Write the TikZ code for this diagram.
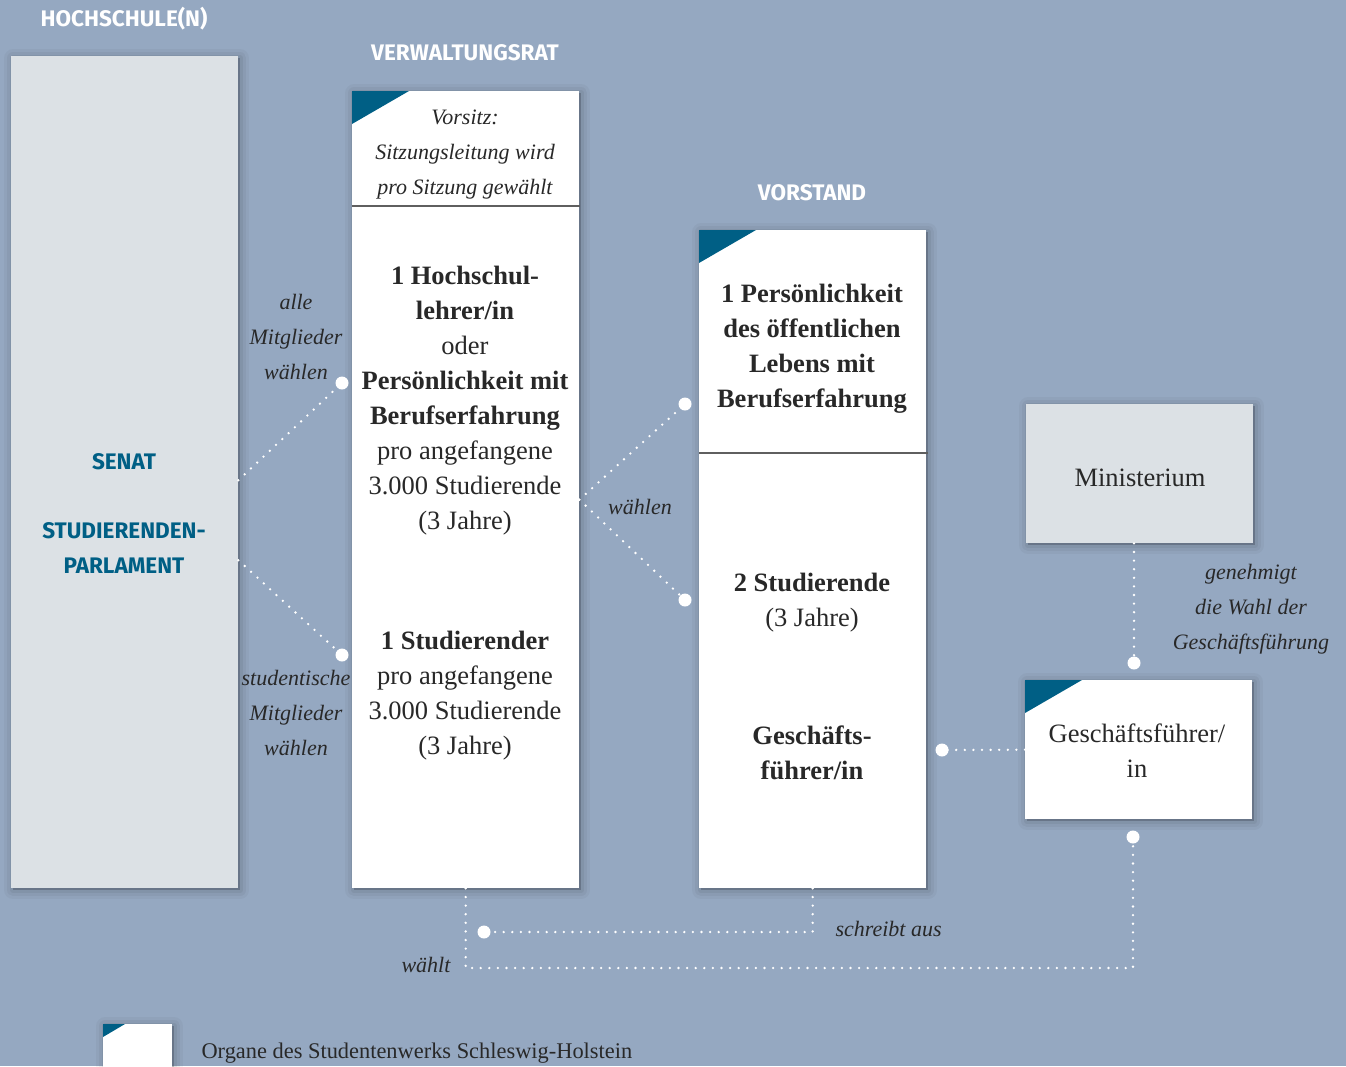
\documentclass[tikz,border=0pt]{standalone}
\usepackage{fontspec}
\setmainfont{Liberation Serif}
\newfontfamily\headfont{Fira Sans}
\usetikzlibrary{shadows}
\definecolor{bgblue}{RGB}{149,168,193}
\definecolor{panelgrey}{RGB}{220,225,229}
\definecolor{organblue}{RGB}{0,95,133}
\definecolor{inktext}{RGB}{40,40,40}
\definecolor{rulegrey}{RGB}{95,95,95}
\begin{document}
\begin{tikzpicture}[x=1pt,y=-1pt,line cap=round,line join=round,
  panel/.style={draw=none,anchor=north west,inner sep=0pt,
    general shadow={fill=black,draw=black,line width=18pt,opacity=.03,shadow xshift=2pt,shadow yshift=-2pt},
    general shadow={fill=black,draw=black,line width=12pt,opacity=.04,shadow xshift=2pt,shadow yshift=-2pt},
    general shadow={fill=black,draw=black,line width=6pt,opacity=.05,shadow xshift=2pt,shadow yshift=-2pt},
    general shadow={fill=black,opacity=.08,shadow xshift=2pt,shadow yshift=-2pt}},
  organ/.style={panel,fill=white},
  board/.style={panel,fill=panelgrey},
  corner/.style={fill=organblue},
  divider/.style={draw=rulegrey,line width=1.2pt,line cap=butt},
  head/.style={font=\headfont\bfseries\fontsize{22.5}{26}\selectfont,text=white},
  bluehead/.style={font=\headfont\bfseries\fontsize{22.5}{35}\selectfont,text=organblue,align=center},
  body/.style={font=\fontsize{26.5}{35}\selectfont,text=inktext,align=center},
  lbl/.style={font=\itshape\fontsize{22}{35}\selectfont,text=inktext,align=center},
  conn/.style={draw=white,line width=2.6pt,line cap=round,dash pattern=on 0pt off 8.6pt},
  knob/.style={fill=white}]
  \fill[bgblue] (0,0) rectangle (1346,1066);
  \useasboundingbox (0,0) rectangle (1346,1066);

  \node[head] (hsTitle) at (124,19) {HOCHSCHULE(N)};
  \node[head] (vwrTitle) at (465,53) {VERWALTUNGSRAT};
  \node[head] (vstTitle) at (812,193) {VORSTAND};

  \node[board,minimum width=227pt,minimum height=832pt] (senat) at (11,56) {};
  \node[bluehead] (senatTxt) at (124,462) {SENAT};
  \node[bluehead] (stupaTxt) at (124,548.5) {STUDIERENDEN-\\PARLAMENT};

  \node[organ,minimum width=227pt,minimum height=797pt] (vwr) at (352,91) {};
  \fill[corner] (vwr.north west) -- ++(57,0) -- ++(-57,33) -- cycle;
  \draw[divider] (352,206) -- (580,206);
  \node[lbl] (vwrChair) at (465,155) {Vorsitz:\\Sitzungsleitung wird\\pro Sitzung gewählt};
  \node[body] (vwrProf) at (465,401) {\textbf{1 Hochschul-}\\\textbf{lehrer/in}\\oder\\
    \textbf{Persönlichkeit mit}\\\textbf{Berufserfahrung}\\pro angefangene\\3.000 Studierende\\(3 Jahre)};
  \node[body] (vwrStud) at (465,695.5) {\textbf{1 Studierender}\\pro angefangene\\3.000 Studierende\\(3 Jahre)};

  \node[organ,minimum width=227pt,minimum height=658pt] (vst) at (699,230) {};
  \fill[corner] (vst.north west) -- ++(57,0) -- ++(-57,33) -- cycle;
  \draw[divider] (699,453) -- (928,453);
  \node[body] (vstPers) at (812,348.5) {\textbf{1 Persönlichkeit}\\\textbf{des öffentlichen}\\
    \textbf{Lebens mit}\\\textbf{Berufserfahrung}};
  \node[body] (vstStud) at (812,603) {\textbf{2 Studierende}\\(3 Jahre)};
  \node[body] (vstGf) at (812,753) {\textbf{Geschäfts-}\\\textbf{führer/in}};

  \node[board,minimum width=227pt,minimum height=139pt] (minist) at (1026,404) {};
  \node[body] (ministTxt) at (1140,478) {Ministerium};
  \node[lbl] (genehmigt) at (1251,609.5) {genehmigt\\die Wahl der\\Geschäftsführung};

  \node[organ,minimum width=227pt,minimum height=139pt] (gf) at (1025,680) {};
  \fill[corner] (gf.north west) -- ++(57,0) -- ++(-57,33) -- cycle;
  \node[body] (gfTxt) at (1137,750.5) {Geschäftsführer/\\in};

  \coordinate (dotA) at (342,383);
  \coordinate (dotB) at (342,655);
  \coordinate (dotC) at (685,404);
  \coordinate (dotD) at (685,600);
  \coordinate (dotM) at (1134,663);
  \coordinate (dotG) at (942,750);
  \coordinate (dotV) at (484,932);
  \coordinate (dotW) at (1133,837);
  \coordinate (wBend) at (1133,968);

  \draw[conn] ([yshift=-8pt]senat.east) -- (dotA);
  \draw[conn] ([yshift=-88pt]senat.east) -- (dotB);
  \draw[conn] ([yshift=-10pt]vwr.east) -- (dotC);
  \draw[conn] ([yshift=-10pt]vwr.east) -- (dotD);
  \draw[conn] (minist.south -| dotM) -- (dotM);
  \draw[conn] (gf.west) -- (dotG);
  \draw[conn] (vst.south) |- (dotV);
  \draw[conn] (vwr.south) |- (wBend) -- (dotW);
  \foreach \d in {dotA,dotB,dotC,dotD,dotM,dotG,dotV,dotW}
    \fill[knob] (\d) circle (6.5pt);

  \node[lbl] (alleLbl) at (296,337) {alle\\Mitglieder\\wählen};
  \node[lbl] (studLbl) at (296,712.5) {studentische\\Mitglieder\\wählen};
  \node[lbl] (waehlenLbl) at (640,507) {wählen};
  \node[lbl,anchor=west] (schreibtLbl) at (832,929) {schreibt aus};
  \node[lbl,anchor=east] (waehltLbl) at (454,965) {wählt};

  \node[organ,minimum width=69pt,minimum height=45pt] (legendBox) at (103,1024) {};
  \fill[corner] (legendBox.north west) -- ++(22,0) -- ++(-22,13) -- cycle;
  \node[body,font=\fontsize{22.4}{26}\selectfont,anchor=west] (legendTxt) at (198,1053)
    {Organe des Studentenwerks Schleswig-Holstein};
\end{tikzpicture}
\end{document}
